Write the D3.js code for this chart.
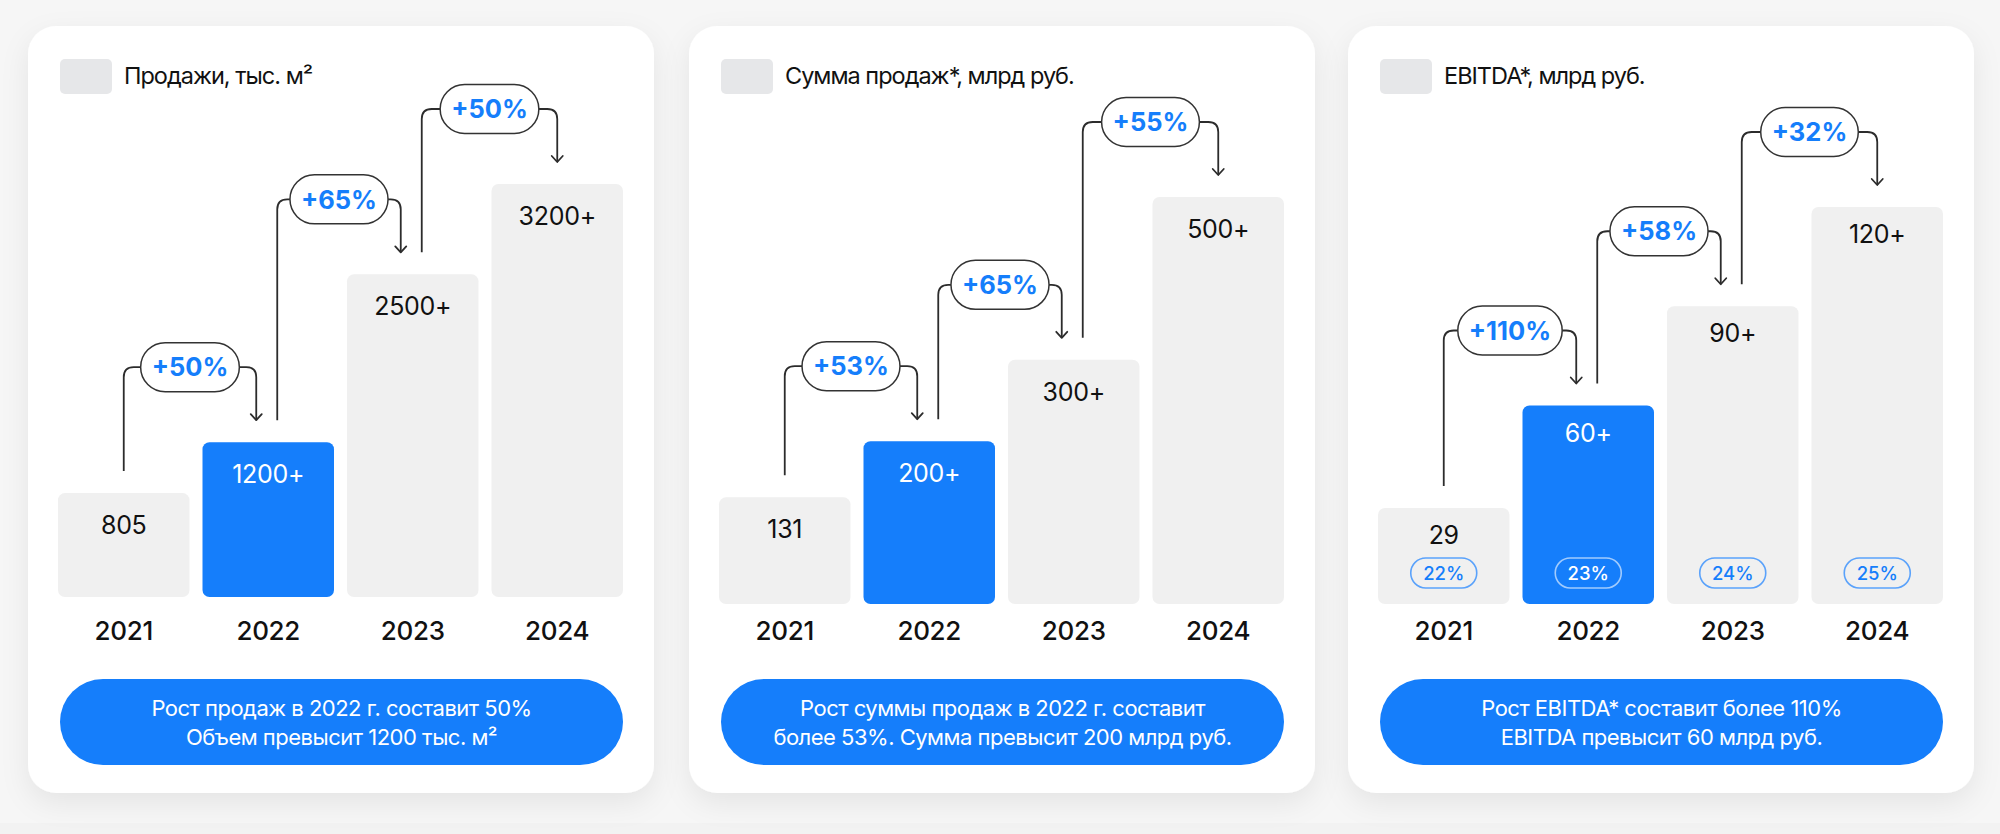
<!DOCTYPE html>
<html>
<head>
<meta charset="utf-8">
<script src="https://cdn.jsdelivr.net/npm/d3@7"></script>
<style>
  html, body { margin: 0; padding: 0; background: #f6f6f6; }
  svg { display: block; font-family: Inter, "Noto Sans", sans-serif; }
</style>
</head>
<body>
<svg id="chart" width="2000" height="834"></svg>
<script>
// ---------- DATA ----------
const years = ["2021", "2022", "2023", "2024"];
const highlightYear = "2022";

const salesTitle = "Продажи, тыс. м²";
const salesValues = [805, 1200, 2500, 3200];
const salesLabels = ["805", "1200+", "2500+", "3200+"];
const salesGrowth = ["+50%", "+65%", "+50%"];
const salesNote = ["Рост продаж в 2022 г. составит 50%", "Объем превысит 1200 тыс. м²"];

const amountTitle = "Сумма продаж*, млрд руб.";
const amountValues = [131, 200, 300, 500];
const amountLabels = ["131", "200+", "300+", "500+"];
const amountGrowth = ["+53%", "+65%", "+55%"];
const amountNote = ["Рост суммы продаж в 2022 г. составит", "более 53%. Сумма превысит 200 млрд руб."];

const ebitdaTitle = "EBITDA*, млрд руб.";
const ebitdaValues = [29, 60, 90, 120];
const ebitdaLabels = ["29", "60+", "90+", "120+"];
const ebitdaGrowth = ["+110%", "+58%", "+32%"];
const ebitdaMargins = ["22%", "23%", "24%", "25%"];
const ebitdaNote = ["Рост EBITDA* составит более 110%", "EBITDA превысит 60 млрд руб."];

// ---------- STYLE / LAYOUT ----------
const BLUE = "#157efb";
const BAR_GRAY = "#f0f0f0";
const INK = "#111111";
const LINE = "#2c2c2c";

const panels = [
  { title: salesTitle, values: salesValues, labels: salesLabels, growth: salesGrowth, note: salesNote, margins: null,
    cardX: 28, bottom: 597, top: 184, labelOff: 41 },
  { title: amountTitle, values: amountValues, labels: amountLabels, growth: amountGrowth, note: amountNote, margins: null,
    cardX: 689, bottom: 604, top: 197, labelOff: 41 },
  { title: ebitdaTitle, values: ebitdaValues, labels: ebitdaLabels, growth: ebitdaGrowth, note: ebitdaNote, margins: ebitdaMargins,
    cardX: 1348, bottom: 604, top: 207, labelOff: 36 }
];

const svg = d3.select("#chart");
const W = 2000, H = 834;

svg.append("rect").attr("width", W).attr("height", H).attr("fill", "#f6f6f6");
svg.append("rect").attr("y", 823).attr("width", W).attr("height", H - 823).attr("fill", "#f2f2f2");

const defs = svg.append("defs");
const f = defs.append("filter").attr("id", "shadow")
  .attr("x", "-10%").attr("y", "-10%").attr("width", "120%").attr("height", "125%");
f.append("feDropShadow").attr("dx", 0).attr("dy", 10).attr("stdDeviation", 14)
  .attr("flood-color", "#000").attr("flood-opacity", 0.07);

const cardY = 26, cardW = 626, cardH = 767;

panels.forEach(p => {
  const g = svg.append("g");
  const cx = p.cardX;

  // card
  g.append("rect")
    .attr("x", cx).attr("y", cardY).attr("width", cardW).attr("height", cardH)
    .attr("rx", 28).attr("fill", "#ffffff").attr("filter", "url(#shadow)");

  // legend
  g.append("rect")
    .attr("x", cx + 32).attr("y", 59).attr("width", 52).attr("height", 35)
    .attr("rx", 5).attr("fill", "#e6e7e9");
  g.append("text")
    .attr("x", cx + 96).attr("y", 84)
    .attr("font-size", 23.5).attr("letter-spacing", "-1px")
    .attr("fill", INK).text(p.title);

  // scales
  const x = d3.scaleBand().domain(years).range([cx + 30, cx + 595]).paddingInner(0.09).paddingOuter(0);
  const y = d3.scaleLinear().domain([0, d3.max(p.values)]).range([p.bottom, p.top]);
  const bw = x.bandwidth();
  const rows = years.map((yr, i) => ({ yr, v: p.values[i], label: p.labels[i], i }));

  // bars
  g.selectAll("rect.bar").data(rows).join("rect")
    .attr("class", "bar")
    .attr("x", d => x(d.yr)).attr("y", d => y(d.v))
    .attr("width", bw).attr("height", d => y(0) - y(d.v))
    .attr("rx", 7)
    .attr("fill", d => d.yr === highlightYear ? BLUE : BAR_GRAY);

  // value labels
  g.selectAll("text.val").data(rows).join("text")
    .attr("class", "val")
    .attr("x", d => x(d.yr) + bw / 2).attr("y", d => y(d.v) + p.labelOff)
    .attr("text-anchor", "middle").attr("font-size", 25).attr("font-weight", 400)
    .attr("letter-spacing", "-0.3px")
    .attr("fill", d => d.yr === highlightYear ? "#ffffff" : INK)
    .text(d => d.label);

  // margin badges (EBITDA)
  if (p.margins) {
    const bg = g.selectAll("g.badge").data(rows).join("g").attr("class", "badge")
      .attr("transform", d => `translate(${x(d.yr) + bw / 2}, ${p.bottom - 31})`);
    bg.append("rect")
      .attr("x", -33).attr("y", -15).attr("width", 66).attr("height", 30).attr("rx", 15)
      .attr("fill", "none").attr("stroke-width", 1.6)
      .attr("stroke", d => d.yr === highlightYear ? "rgba(255,255,255,0.6)" : "#5aa2fb");
    bg.append("text")
      .attr("text-anchor", "middle").attr("dy", "0.36em")
      .attr("font-size", 18.5).attr("font-weight", 500)
      .attr("fill", d => d.yr === highlightYear ? "#ffffff" : BLUE)
      .text(d => p.margins[d.i]);
  }

  // year axis labels
  g.selectAll("text.year").data(years).join("text")
    .attr("class", "year")
    .attr("x", d => x(d) + bw / 2).attr("y", 640)
    .attr("text-anchor", "middle").attr("font-size", 26).attr("font-weight", 500)
    .attr("letter-spacing", "-0.3px")
    .attr("fill", INK).text(d => d);

  // growth connectors
  const gap = 22, lift = 75, r = 10;
  p.growth.forEach((gr, i) => {
    const c0 = x(years[i]) + bw / 2;
    const c1 = x(years[i + 1]) + bw / 2;
    const sx = i === 0 ? c0 : c0 + 9;
    const ax = i === p.growth.length - 1 ? c1 : c1 - 12;
    const sy = y(p.values[i]) - gap;
    const tipY = y(p.values[i + 1]) - gap;
    const ly = y(p.values[i + 1]) - lift;
    const mid = (sx + ax) / 2;

    const cg = g.append("g");
    const t = cg.append("text")
      .attr("x", mid).attr("y", ly).attr("dy", "0.36em")
      .attr("text-anchor", "middle").attr("font-size", 25.5).attr("font-weight", 700)
      .attr("fill", BLUE).text(gr);
    const tw = t.node().getComputedTextLength();
    const pw = tw + 22, ph = 49;
    const pl = mid - pw / 2, pr = mid + pw / 2;

    cg.insert("path", "text")
      .attr("d", `M${sx},${sy} V${ly + r} Q${sx},${ly} ${sx + r},${ly} H${pl}`)
      .attr("fill", "none").attr("stroke", LINE).attr("stroke-width", 1.8);
    cg.insert("path", "text")
      .attr("d", `M${pr},${ly} H${ax - r} Q${ax},${ly} ${ax},${ly + r} V${tipY}`)
      .attr("fill", "none").attr("stroke", LINE).attr("stroke-width", 1.8);
    cg.insert("path", "text")
      .attr("d", `M${ax - 5.5},${tipY - 6} L${ax},${tipY} L${ax + 5.5},${tipY - 6}`)
      .attr("fill", "none").attr("stroke", LINE).attr("stroke-width", 1.8)
      .attr("stroke-linejoin", "round").attr("stroke-linecap", "round");
    cg.insert("rect", "text")
      .attr("x", pl).attr("y", ly - ph / 2).attr("width", pw).attr("height", ph)
      .attr("rx", ph / 2).attr("fill", "#ffffff").attr("stroke", "#333").attr("stroke-width", 1.5);
  });

  // bottom note pill
  g.append("rect")
    .attr("x", cx + 32).attr("y", 679).attr("width", 563).attr("height", 86)
    .attr("rx", 43).attr("fill", BLUE);
  g.selectAll("text.note").data(p.note).join("text")
    .attr("class", "note")
    .attr("x", cx + 32 + 563 / 2).attr("y", (d, i) => 716 + i * 29)
    .attr("text-anchor", "middle").attr("font-size", 22).attr("letter-spacing", "-0.5px")
    .attr("fill", "#ffffff").text(d => d);
});
</script>
</body>
</html>
